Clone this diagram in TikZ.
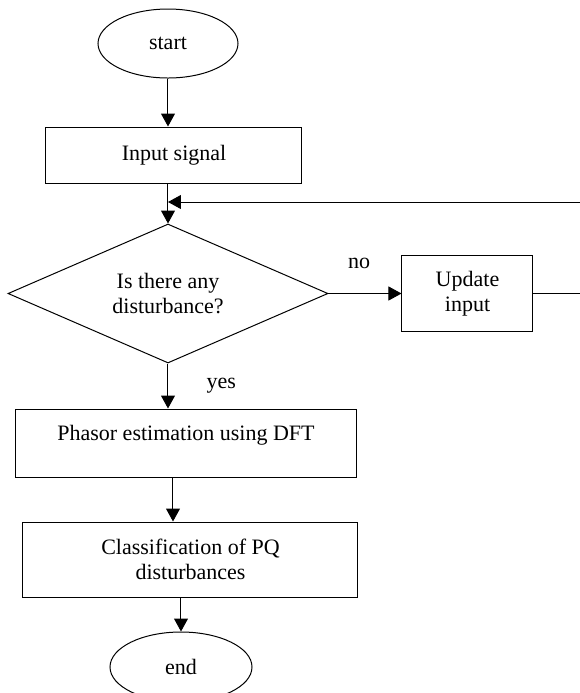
\documentclass[tikz,border=0pt]{standalone}
\usepackage{fontspec}
\setmainfont{Liberation Serif}
\usetikzlibrary{shapes.geometric,arrows.meta,positioning}

\tikzset{
  box/.style={draw, rectangle, inner sep=2pt, align=center},
  term/.style={draw, ellipse, inner sep=0pt},
  decide/.style={draw, diamond, aspect=2.3, inner sep=0pt, align=center},
  arr/.style={-{Triangle[length=6.5pt,width=7pt]}},
  lbl/.style={inner sep=0pt},
}

\begin{document}
\begin{tikzpicture}[x=0.5pt, y=-0.5pt, line width=0.5pt, font=\fontsize{11}{12.6}\selectfont]
        \useasboundingbox (0,0) rectangle (580,693);

        % Flow chart blocks
        \node[term, minimum width=70pt, minimum height=34.5pt] (start) at (168,43.5) {start};
        \node[box, minimum width=128pt, minimum height=28pt] (input) at (174,155) {Input signal};
        \node[decide, minimum width=160pt, minimum height=69.5pt] (dist) at (168,293.5) {Is there any\\disturbance?};
        \node[box, minimum width=65.5pt, minimum height=38pt] (update) at (467.5,293.5) {Update\\input};
        \node[box, minimum width=171pt, minimum height=34pt, text depth=10.5pt] (phasor) at (186,443) {Phasor estimation using DFT};
        \node[box, minimum width=167.5pt, minimum height=37.5pt] (classify) at (190.5,559.5) {Classification of PQ\\disturbances};
        \node[term, minimum width=71pt, minimum height=35pt] (stop) at (181,667) {end};

        % Arrows between blocks
        \draw[arr] (start.south) -- (start.south |- input.north);
        \draw[arr] (dist.north |- input.south) -- (dist.north);
        \draw[arr] (dist.east) -- node[lbl, above=12pt, pos=0.42] (no) {no} (update.west);
        \draw[arr] (dist.south) -- node[lbl, right=19pt, pos=0.49] (yes) {yes} (dist.south |- phasor.north);
        \draw[arr] ([xshift=-6.5pt]phasor.south) -- ([xshift=-6.5pt]phasor.south |- classify.north);
        \draw[arr] (classify.south -| stop.north) -- (stop.north);

        % Feedback loop (runs off the right edge)
        \coordinate (loop) at (590,202);
        \draw[arr] (update.east) -| (loop) -- (dist.north |- loop);
    \end{tikzpicture}
\end{document}
